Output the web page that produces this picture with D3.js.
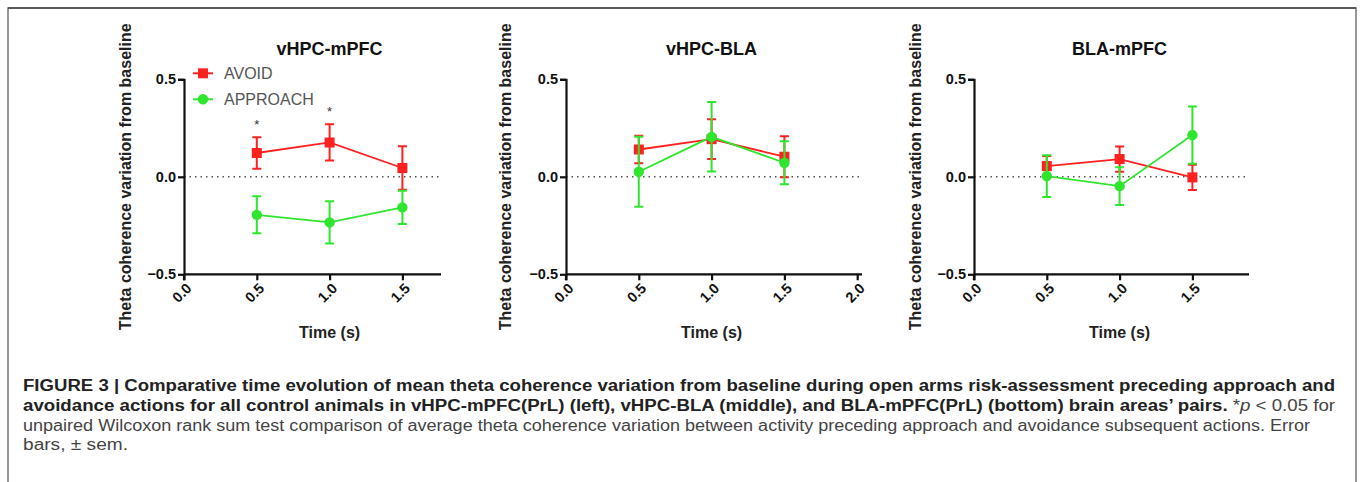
<!DOCTYPE html>
<html>
<head>
<meta charset="utf-8">
<script src="https://cdn.jsdelivr.net/npm/d3@7"></script>
<style>
  body { margin: 0; background: #fff; }
  svg { display: block; font-family: "Liberation Sans", Arial, sans-serif; }
</style>
</head>
<body>
<div class="canvas"></div>
<script>
// data
const times = [0.5, 1.0, 1.5];
const panelTitles = ['vHPC-mPFC', 'vHPC-BLA', 'BLA-mPFC'];
const avoidMean = [[0.122, 0.176, 0.045], [0.14, 0.193, 0.103], [0.055, 0.091, -0.003]];
const avoidSem = [[0.081, 0.093, 0.112], [0.07, 0.102, 0.105], [0.052, 0.065, 0.065]];
const approachMean = [[-0.195, -0.234, -0.157], [0.026, 0.205, 0.072], [0.004, -0.048, 0.214]];
const approachSem = [[0.095, 0.108, 0.085], [0.18, 0.178, 0.11], [0.107, 0.097, 0.147]];
const xTickValues = [[0, 0.5, 1, 1.5], [0, 0.5, 1, 1.5, 2], [0, 0.5, 1, 1.5]];
const yTickValues = [-0.5, 0, 0.5];
const starTimes = [[0.5, 1.0], [], []];
const seriesNames = ['AVOID', 'APPROACH'];

const red = '#ff2020', green = '#2ee62e';

// layout
const panelLeft = [184, 566, 974];
const panelWidth = [257, 296, 275];
const labelOffset = [-59, -61, -59];
const pxPerUnit = 145.6;
const plotTop = 79.3, plotH = 195;

const svg = d3.select('.canvas')
  .append('svg')
   .attr('width', 1360)
   .attr('height', 482);

// figure frame
svg.append('path')
  .attr('d', 'M8,490 L8,8 L1356,8 L1356,490')
  .attr('fill', 'none')
  .attr('stroke', '#777')
  .attr('stroke-width', 1.5);
svg.append('line')
  .attr('x1', 8).attr('x2', 1356).attr('y1', 8).attr('y2', 8)
  .attr('stroke', '#444').attr('stroke-width', 1.5);

panelTitles.forEach((title, p) => {
  const g = svg.append('g')
    .attr('transform', `translate(${panelLeft[p]}, ${plotTop})`);

  const x = d3.scaleLinear()
    .domain([0, panelWidth[p] / pxPerUnit])
    .range([0, panelWidth[p]]);
  const y = d3.scaleLinear()
    .domain([-0.5, 0.5])
    .range([plotH, 0]);

  // zero reference
  g.append('line')
    .attr('x1', 0).attr('x2', panelWidth[p])
    .attr('y1', y(0)).attr('y2', y(0))
    .attr('stroke', '#555')
    .attr('stroke-width', 1.4)
    .attr('stroke-dasharray', '1.5,4');

  // axes
  const yAxis = d3.axisLeft(y).tickValues(yTickValues).tickSize(6).tickFormat(d3.format('.1f'));
  const xAxis = d3.axisBottom(x).tickValues(xTickValues[p]).tickSize(6).tickFormat(d3.format('.1f'));

  const yAxisGroup = g.append('g').call(yAxis);
  const xAxisGroup = g.append('g').attr('transform', `translate(0, ${plotH})`).call(xAxis);

  [yAxisGroup, xAxisGroup].forEach(ax => {
    ax.select('.domain').attr('stroke', '#111').attr('stroke-width', 2.2);
    ax.selectAll('.tick line').attr('stroke', '#111').attr('stroke-width', 2.2);
    ax.selectAll('text')
      .attr('fill', '#111')
      .style('font-size', '14.5px')
      .style('font-weight', 'bold')
      .style('font-family', '"Liberation Sans", Arial, sans-serif');
  });
  yAxisGroup.select('.domain').attr('d', `M-6,0.5H0.5V${plotH}`);
  yAxisGroup.selectAll('.tick line').attr('x2', -6);
  yAxisGroup.selectAll('text').attr('x', -8);
  xAxisGroup.select('.domain').attr('d', `M0,0.5V6M0,0H${panelWidth[p]}`);
  xAxisGroup.selectAll('text')
    .attr('y', 0).attr('dy', 0)
    .attr('text-anchor', 'end')
    .attr('transform', 'translate(8, 15) rotate(-45)');

  // titles
  g.append('text')
    .attr('x', x(1)).attr('y', -24)
    .attr('text-anchor', 'middle')
    .style('font-size', '18px').style('font-weight', 'bold')
    .attr('fill', '#111')
    .text(title);

  g.append('text')
    .attr('x', x(1)).attr('y', 259)
    .attr('text-anchor', 'middle')
    .style('font-size', '16px').style('font-weight', 'bold')
    .attr('fill', '#222')
    .text('Time (s)');

  g.append('text')
    .attr('transform', `translate(${labelOffset[p]}, ${y(0)}) rotate(-90)`)
    .attr('text-anchor', 'middle')
    .attr('dy', '0.35em')
    .style('font-size', '16px').style('font-weight', 'bold')
    .attr('fill', '#222')
    .text('Theta coherence variation from baseline');

  // series
  const series = [
    { mean: avoidMean[p], sem: avoidSem[p], color: red, shape: 'square' },
    { mean: approachMean[p], sem: approachSem[p], color: green, shape: 'circle' }
  ];

  series.forEach(s => {
    const pts = times.map((t, i) => ({ t, m: s.mean[i], e: s.sem[i] }));
    const sg = g.append('g');

    sg.selectAll('.err').data(pts).enter().append('path')
      .attr('d', d => {
        const cx = x(d.t), y1 = y(d.m + d.e), y2 = y(d.m - d.e);
        return `M${cx - 4.5},${y1}H${cx + 4.5}M${cx},${y1}V${y2}M${cx - 4.5},${y2}H${cx + 4.5}`;
      })
      .attr('fill', 'none')
      .attr('stroke', s.color)
      .attr('stroke-width', 2);

    sg.append('path')
      .datum(pts)
      .attr('d', d3.line().x(d => x(d.t)).y(d => y(d.m)))
      .attr('fill', 'none')
      .attr('stroke', s.color)
      .attr('stroke-width', 1.8);

    if (s.shape === 'square') {
      sg.selectAll('.mk').data(pts).enter().append('rect')
        .attr('x', d => x(d.t) - 5).attr('y', d => y(d.m) - 5)
        .attr('width', 10).attr('height', 10)
        .attr('fill', s.color);
    } else {
      sg.selectAll('.mk').data(pts).enter().append('circle')
        .attr('cx', d => x(d.t)).attr('cy', d => y(d.m))
        .attr('r', 5.2)
        .attr('fill', s.color);
    }
  });

  // significance stars
  g.selectAll('.star').data(starTimes[p]).enter().append('text')
    .attr('x', d => x(d))
    .attr('y', d => {
      const i = times.indexOf(d);
      return y(avoidMean[p][i] + avoidSem[p][i]) - 8;
    })
    .attr('text-anchor', 'middle')
    .style('font-size', '13px')
    .attr('fill', '#333')
    .text('*');

  // legend (first panel only)
  if (p === 0) {
    const lg = g.append('g').attr('transform', 'translate(9, -6)');
    seriesNames.forEach((name, i) => {
      const c = i === 0 ? red : green;
      const ly = i * 26;
      lg.append('line').attr('x1', 0).attr('x2', 20).attr('y1', ly).attr('y2', ly)
        .attr('stroke', c).attr('stroke-width', 2);
      if (i === 0) {
        lg.append('rect').attr('x', 5).attr('y', ly - 5).attr('width', 10).attr('height', 10).attr('fill', c);
      } else {
        lg.append('circle').attr('cx', 10).attr('cy', ly).attr('r', 5.2).attr('fill', c);
      }
      lg.append('text')
        .attr('x', 31).attr('y', ly).attr('dy', '0.36em')
        .style('font-size', '16px')
        .attr('fill', '#555')
        .text(name);
    });
  }
});

// caption
const cap = svg.append('g').attr('fill', '#222').style('font-size', '16px');
const capLine = (yy, len) => cap.append('text').attr('x', 23).attr('y', yy)
  .attr('textLength', len).attr('lengthAdjust', 'spacingAndGlyphs');

capLine(391, 1312).style('font-weight', 'bold')
  .text('FIGURE 3 | Comparative time evolution of mean theta coherence variation from baseline during open arms risk-assessment preceding approach and');

const l2 = capLine(411, 1312);
l2.append('tspan').style('font-weight', 'bold')
  .text('avoidance actions for all control animals in vHPC-mPFC(PrL) (left), vHPC-BLA (middle), and BLA-mPFC(PrL) (bottom) brain areas\u2019 pairs.');
l2.append('tspan').attr('fill', '#444').text(' *');
l2.append('tspan').attr('fill', '#444').style('font-style', 'italic').text('p');
l2.append('tspan').attr('fill', '#444').text(' < 0.05 for');

capLine(431, 1287).attr('fill', '#444')
  .text('unpaired Wilcoxon rank sum test comparison of average theta coherence variation between activity preceding approach and avoidance subsequent actions. Error');

capLine(450, 105).attr('fill', '#444')
  .text('bars, \u00b1 sem.');
</script>
</body>
</html>
